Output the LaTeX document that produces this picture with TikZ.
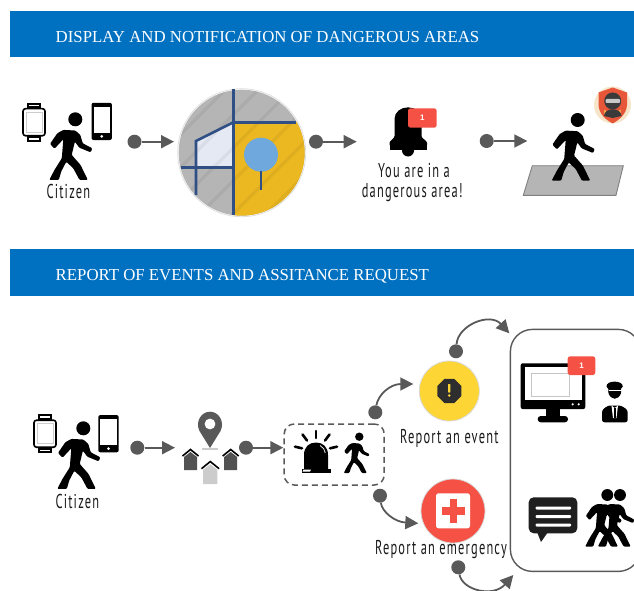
\documentclass[tikz,border=0pt]{standalone}
\usepackage{fontspec}
\setmainfont{Liberation Serif}
\newfontfamily\condfont[FakeStretch=0.62,LetterSpace=6]{PT Sans}
\newfontfamily\sansfont{Liberation Sans}
\usetikzlibrary{arrows.meta,shapes.geometric}
\definecolor{hdrblue}{HTML}{0070C0}
\definecolor{conncol}{HTML}{595959}
\definecolor{mapgray}{HTML}{B5B5B5}
\definecolor{mapyellow}{HTML}{EBB822}
\definecolor{mapblue}{HTML}{2F4F85}
\definecolor{pinblue}{HTML}{6FA8DC}
\definecolor{badgered}{HTML}{F55245}
\definecolor{mapwhite}{HTML}{E4E9F3}
\definecolor{shieldbg}{HTML}{F6E5C8}
\definecolor{shieldred}{HTML}{E8563A}
\definecolor{shieldamber}{HTML}{F4A54A}
\definecolor{ninja}{HTML}{3A3A3A}
\definecolor{visor}{HTML}{C8C8C8}
\definecolor{eventyellow}{HTML}{FDD635}
\tikzset{
  x=1pt,y=-1pt,
  header/.style={fill=hdrblue,draw=none},
  headtext/.style={text=white,anchor=west,font=\fontsize{16.8}{18}\selectfont,inner sep=0pt},
  label/.style={font=\condfont\fontsize{20}{22}\selectfont,text=black!90,inner sep=0pt},
  dotnode/.style={circle,fill=conncol,draw=none,minimum size=14pt,inner sep=0pt},
  connarrow/.style={draw=conncol,line width=1.8pt,-{Triangle[length=13pt,width=13pt]}},
  badgetext/.style={text=white,font=\sansfont\bfseries\fontsize{8}{9}\selectfont,inner sep=0pt},
  pics/walker/.style={code={
    \fill (0,0) circle[radius=7];
    \fill[rounded corners=1pt] (-25.3,24.6)--(-18,14)--(-12,10.6)--(0,11.2)--(5,15.6)--(7.4,24)--(17,29)--(15.4,33)--(4,28.4)--(-0.4,22.4)--(-3.6,35.6)--(5.2,45.6)--(12.5,60.6)--(4.2,60.6)--(-2,49)--(-9,42.5)--(-14,52)--(-16.5,60.6)--(-26,60.6)--(-20.8,50.6)--(-13.5,39)--(-12,20)--(-20.8,29.4)--cycle;
  }},
  pics/watch/.style={code={
    \fill[black] (-7,-19.5) rectangle (7,19.5);
    \draw[line width=1.6pt,fill=white,rounded corners=2.5pt] (-11,-13.5) rectangle (11,13.5);
    \draw[gray!40,line width=.6pt] (-8,-10) rectangle (8,10);
    \fill[white] (-5,-17.6) rectangle (5,-15.9);
    \fill[white] (-5,15.9) rectangle (5,17.6);
  }},
  pics/phone/.style={code={
    \fill[black,rounded corners=2pt] (-10.2,-18.6) rectangle (10.2,18.6);
    \fill[white] (-8.2,-14.4) rectangle (8.2,11.4);
    \fill[white] (0,15) circle[radius=1.5];
  }},
  pics/house/.style={code={
    \fill[#1] (-6.5,-2)--(0,-7)--(6.5,-2)--(6.5,11)--(-6.5,11)--cycle;
    \draw[black,line width=1.6pt] (-8,-3)--(0,-9.5)--(8,-3);
  }},
}
\begin{document}
\begin{tikzpicture}
\useasboundingbox (0,0) rectangle (634,591);
% headers
\fill[header] (10,11) rectangle (634,57);
\node[headtext] (h1) at (55.5,37.5) {DISPLAY AND NOTIFICATION OF DANGEROUS AREAS};
\fill[header] (10,249) rectangle (634,296);
\node[headtext] (h2) at (55.5,276) {REPORT OF EVENTS AND ASSITANCE REQUEST};
% top row devices
\pic at (34,122.2) {watch};
\pic at (101.7,121.4) {phone};
\pic at (75.3,119.3) {walker};
\node[label] (cit1) at (68.3,191.5) {Citizen};
% map
\begin{scope}
  \clip (241.7,152.7) circle[radius=63];
  \fill[mapgray] (170,80) rectangle (310,225);
  \fill[mapyellow] (233.3,122.3) rectangle (310,225);
  \fill[mapwhite] (196,141.7)--(232.3,123.3)--(232.3,167.3)--(196,167.3)--cycle;
  \foreach \d in {0,33,...,300}{
    \draw[black,opacity=.05,line width=3.5pt] (90+\d,225)--(230+\d,85);
  }
  \fill[pinblue] (261,154.7) circle[radius=17];
  \draw[mapblue,line width=2.6pt] (261,171)--(261,190);
\end{scope}
\draw[gray!25,line width=.8pt] (241.7,152.7) circle[radius=64];
\draw[mapblue,line width=2.6pt] (233.3,89.3)--(233.3,215);
\draw[mapblue,line width=2.6pt] (233.3,122.3)--(296,122.3);
\draw[mapblue,line width=2.6pt] (233.3,122.3)--(196,141)--(196,195);
\draw[mapblue,line width=2.6pt] (180.7,167.7)--(233.3,167.7);
\node[circle,minimum size=128pt,inner sep=0pt] (map) at (241.7,152.7) {};
% bell
\node[inner sep=0pt,minimum size=1pt] (bell) at (408,130) {};
\fill[black] (408,150.5) circle[radius=6];
\fill[black,rounded corners=1pt] (389.5,146)--(389.5,142)--(394.5,137)--(394.5,120) .. controls (394.5,112) and (401,107.5) .. (408,107.5) .. controls (415,107.5) and (421.5,112) .. (421.5,120)--(421.5,137)--(427,142)--(427,146)--cycle;
\fill[black] (389.5,145) rectangle (427,150);
\fill[badgered,rounded corners=2.5pt] (408,108.3) rectangle (436.7,127.7);
\node[badgetext] (b1) at (422.4,118) {1};
\node[label] (t1) at (414,170.7) {You are in a};
\node[label] (t2) at (412.3,192.3) {dangerous area!};
% pavement
\draw[fill=mapgray,draw=gray,line width=.9pt] (532.3,165.7)--(623.3,165.7)--(616,195.3)--(523.3,195.3)--cycle;
\pic at (577.7,120) {walker};
\coordinate (walk2) at (527.3,141);
% shield badge
\fill[shieldbg] (612.5,105) circle[radius=18.5];
\fill[shieldred] (612.7,87.5)--(627,92.5)--(627,105) .. controls (626.5,114) and (619,120) .. (612.7,123.5) .. controls (606,120) and (599,114) .. (598.5,105)--(598.5,92.5)--cycle;
\fill[shieldamber] (604,110) rectangle (606,114);
\fill[shieldamber] (619,110) rectangle (621,114);
\fill[ninja] (612.7,101) circle[radius=8.5];
\fill[ninja] (604,116) .. controls (604.5,107) and (621,107) .. (621.5,116) -- (612.7,118)--cycle;
\fill[visor,rounded corners=1pt] (605.5,99) rectangle (620,103);
% top connectors
\node[dotnode] (d1) at (134.5,141.7) {};
\coordinate (a1) at (174,141.7);
\draw[connarrow] (d1) -- (a1);
\node[dotnode] (d2) at (316,141.7) {};
\coordinate (a2) at (356.7,141.7);
\draw[connarrow] (d2) -- (a2);
\node[dotnode] (d3) at (486.7,141) {};
\draw[connarrow] (d3) -- (walk2);
% bottom row
\pic at (45,433.7) {watch};
\pic at (108.5,433.7) {phone};
\pic at (83.3,428.3) {walker};
\node[label] (cit2) at (77.3,501.5) {Citizen};
% pin and houses
\fill[conncol] (210,448) -- (199.5,431) .. controls (195,422) and (201,411.7) .. (210,411.7) .. controls (219,411.7) and (225,422) .. (220.5,431) -- cycle;
\fill[white] (210,424) circle[radius=5.4];
\fill[gray!40] (202,447.5) rectangle (218,449.5);
\pic at (190.5,459) {house={black!68}};
\pic at (230.7,459) {house={black!68}};
\pic[scale=1.1] at (210.3,472) {house={gray!40}};
% dashed box
\node[draw=conncol,line width=1.5pt,dash pattern=on 6pt off 4pt,rounded corners=10pt,minimum width=100pt,minimum height=61pt,inner sep=0pt] (dbox) at (334.2,454.5) {};
% alarm
\fill[black] (304,469) -- (304,455) .. controls (304,447) and (309,442.5) .. (316,442.5) .. controls (323,442.5) and (328,447) .. (328,455) -- (328,469) -- cycle;
\draw[white,line width=.7pt] (320,445.5) .. controls (323,447) and (325,450) .. (325.3,453);
\fill[black] (302,468.5) rectangle (330.5,473);
\fill[white] (303.5,469.5) -- (311,469.5) -- (310,471.5) -- (302.5,471.5) -- cycle;
\draw[black,line width=2.6pt,line cap=round] (316,431)--(316,438);
\draw[black,line width=2.6pt,line cap=round] (302.5,434.5)--(307,440.5);
\draw[black,line width=2.6pt,line cap=round] (329.5,434.5)--(325,440.5);
\draw[black,line width=2.6pt,line cap=round] (295,446.7)--(302,448.3);
\draw[black,line width=2.6pt,line cap=round] (337,446.7)--(330,448.3);
\pic[scale=.6] at (359.3,436.7) {walker};
% event / emergency
\node[circle,fill=eventyellow,draw=gray!30,line width=.8pt,minimum size=60pt,inner sep=0pt] (ev) at (449.3,391) {};
\node[regular polygon,regular polygon sides=8,fill=black!82,minimum size=26pt,inner sep=0pt] (oct) at (449.3,391) {};
\fill[eventyellow,rounded corners=.5pt] (448.2,384)rectangle(450.4,392.5);
\fill[eventyellow] (449.3,395.5) circle[radius=1.4];
\node[label] (t3) at (449.3,438.3) {Report an event};
\node[circle,fill=badgered,draw=gray!30,line width=.8pt,minimum size=64pt,inner sep=0pt] (em) at (453,511) {};
\fill[white,rounded corners=2.5pt] (436,493.3) rectangle (470,528.3);
\fill[badgered] (449.5,499) rectangle (456.5,522.5);
\fill[badgered] (441.5,507) rectangle (465,514.5);
\node[label] (t4) at (441,550) {Report an emergency};
% right panel
\node[draw=black!65,line width=1.4pt,rounded corners=22pt,minimum width=130pt,minimum height=242pt,inner sep=0pt,anchor=north west] (panel) at (509.7,328.7) {};
% monitor
\fill[black,rounded corners=2pt] (520.7,363.3) rectangle (585.3,409);
\fill[white] (524.5,367) rectangle (581.5,399.5);
\draw[gray!45,fill=white,line width=.5pt] (531.5,373.7) rectangle (569.3,396.3);
\fill[white] (572.7,404.3) circle[radius=1.2];
\fill[white] (578.7,404.3) circle[radius=1.2];
\fill[black] (546,409) rectangle (560,417);
\fill[black,rounded corners=3pt] (537.7,416) rectangle (568,422.3);
\fill[badgered,rounded corners=2.5pt] (567.7,356.3) rectangle (595.3,375);
\node[badgetext] (b2) at (581.5,365.7) {1};
% officer
\fill[black] (614.7,391.5) circle[radius=6.5];
\fill[black] (606.5,386.5) .. controls (606,380) and (623,380) .. (622.8,386.5) -- (620,390) -- (609,390) -- cycle;
\fill[white] (608.5,390) rectangle (620.5,391);
\fill[black] (609,392) .. controls (609.5,401) and (620,401) .. (620.5,392) -- cycle;
\fill[black,rounded corners=2.5pt] (602,422.3) -- (602,410) -- (608,405.5) -- (621,405.5) -- (627.7,410) -- (627.7,422.3) -- cycle;
\fill[white] (611.5,405.5)--(614.7,408)--(618,405.5)--(616.5,418)--(613,418)--cycle;
\fill[black] (613.8,407.5) rectangle (615.8,418);
% chat
\fill[black!88,rounded corners=5pt] (528.7,497.3) rectangle (577.3,533.3);
\fill[black!88] (537,532)--(541,542)--(548,532)--cycle;
\fill[white,rounded corners=1pt] (535.7,506.5) rectangle (571,509.5);
\fill[white,rounded corners=1pt] (535.7,515) rectangle (571,518);
\fill[white,rounded corners=1pt] (535.7,523.5) rectangle (571,526.5);
% pair
\pic[scale=.85] at (620,495) {walker};
\pic[scale=.85] at (607.3,495) {walker};
% curved connectors
\node[dotnode] (d4) at (137.3,447.7) {};
\coordinate (a4) at (175,447.7);
\draw[connarrow] (d4) -- (a4);
\node[dotnode] (d5) at (246,447.7) {};
\coordinate (a5) at (283.3,447.7);
\draw[connarrow] (d5) -- (a5);
\node[dotnode] (d6) at (375.3,412.3) {};
\coordinate (a6) at (413.3,384);
\draw[connarrow] (d6) .. controls (378,395) and (390,384) .. (a6);
\node[dotnode] (d7) at (380,495.7) {};
\coordinate (a7) at (418.3,523.3);
\draw[connarrow] (d7) .. controls (382,512) and (395,522) .. (a7);
\node[dotnode] (d8) at (456,351.3) {};
\coordinate (a8) at (509.3,333.3);
\draw[connarrow] (d8) .. controls (458,325) and (490,312) .. (a8);
\node[dotnode] (d9) at (458.3,567.3) {};
\coordinate (a9) at (513.3,575);
\draw[connarrow] (d9) .. controls (462,590) and (493,598) .. (a9);
\end{tikzpicture}
\end{document}
